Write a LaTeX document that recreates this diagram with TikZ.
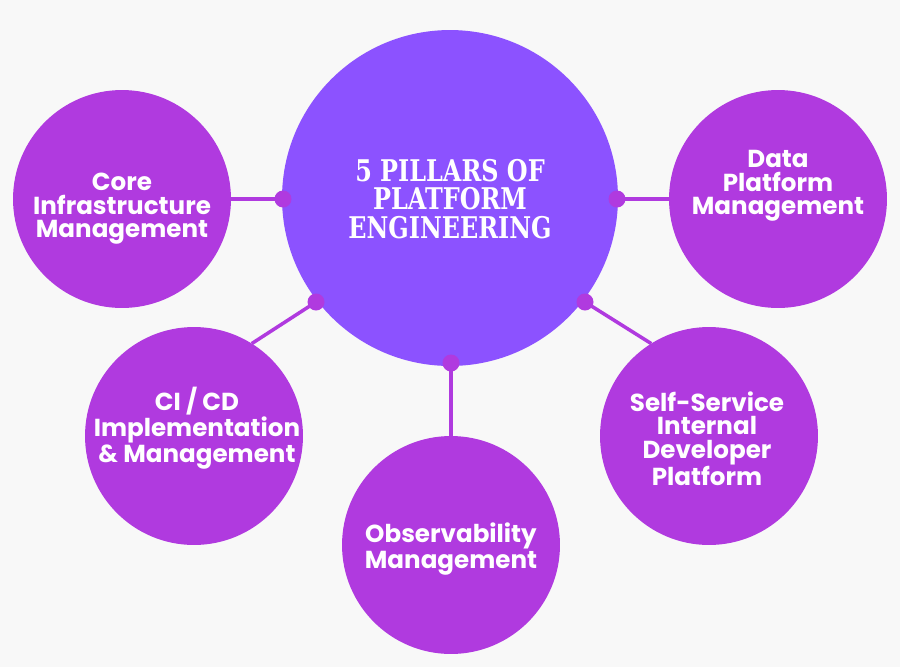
\documentclass[tikz,border=0pt]{standalone}
\usepackage{fontspec}
\setmainfont{Poppins}
\newfontfamily\titlefont[FakeStretch=0.8]{DejaVu Serif}
\definecolor{bgcol}{HTML}{F8F8F8}
\definecolor{hubcol}{HTML}{8C52FF}
\definecolor{pillcol}{HTML}{B03ADF}
\tikzset{
  pillar/.style={circle,fill=pillcol,minimum size=4.36cm,inner sep=0pt,outer sep=0pt},
  hub/.style={circle,fill=hubcol,minimum size=6.72cm,inner sep=0pt,outer sep=0pt},
  joint/.style={circle,fill=pillcol,minimum size=0.34cm,inner sep=0pt},
  link/.style={pillcol,line width=2pt},
  pilltext/.style={text=white,align=center,font=\bfseries\fontsize{14}{13.3}\selectfont},
  hubtext/.style={text=white,align=center,font=\titlefont\bfseries\fontsize{17}{16.4}\selectfont}
}
\begin{document}
\begin{tikzpicture}[x=0.02cm,y=-0.02cm]
  \fill[bgcol] (0,0) rectangle (900,667);
  \node[hub] (hub) at (450,198) {};
  \node[pillar] (core) at (122,199) {};
  \node[pillar] (data) at (778,199) {};
  \node[pillar] (cicd) at (194,436) {};
  \node[pillar] (obs) at (451,545) {};
  \node[pillar] (self) at (709,436) {};
  \node[joint] (jW) at (283,199) {};
  \node[joint] (jE) at (617,199) {};
  \node[joint] (jSW) at (316,302) {};
  \node[joint] (jSE) at (585,302) {};
  \node[joint] (jS) at (451,363) {};
  \draw[link] (jW.center) -- (core.east);
  \draw[link] (jE.center) -- (data.west);
  \draw[link] (jSW.center) -- (cicd.58);
  \draw[link] (jSE.center) -- (self.122);
  \draw[link] (jS.center) -- (obs.north);
  \node[hubtext] (title) at (450,199) {5 PILLARS OF\\PLATFORM\\ENGINEERING};
  \node[pilltext] (coreT) at (122,209) {Core\\Infrastructure\\Management};
  \node[pilltext] (dataT) at (778,186) {Data\\Platform\\Management};
  \node[pilltext] (cicdT) at (197,428) {CI / CD\\Implementation\\\& Management};
  \node[pilltext] (obsT) at (451,549) {Observability\\Management};
  \node[pilltext] (selfT) at (707,439) {Self-Service\\Internal\\Developer\\Platform};
\end{tikzpicture}
\end{document}
